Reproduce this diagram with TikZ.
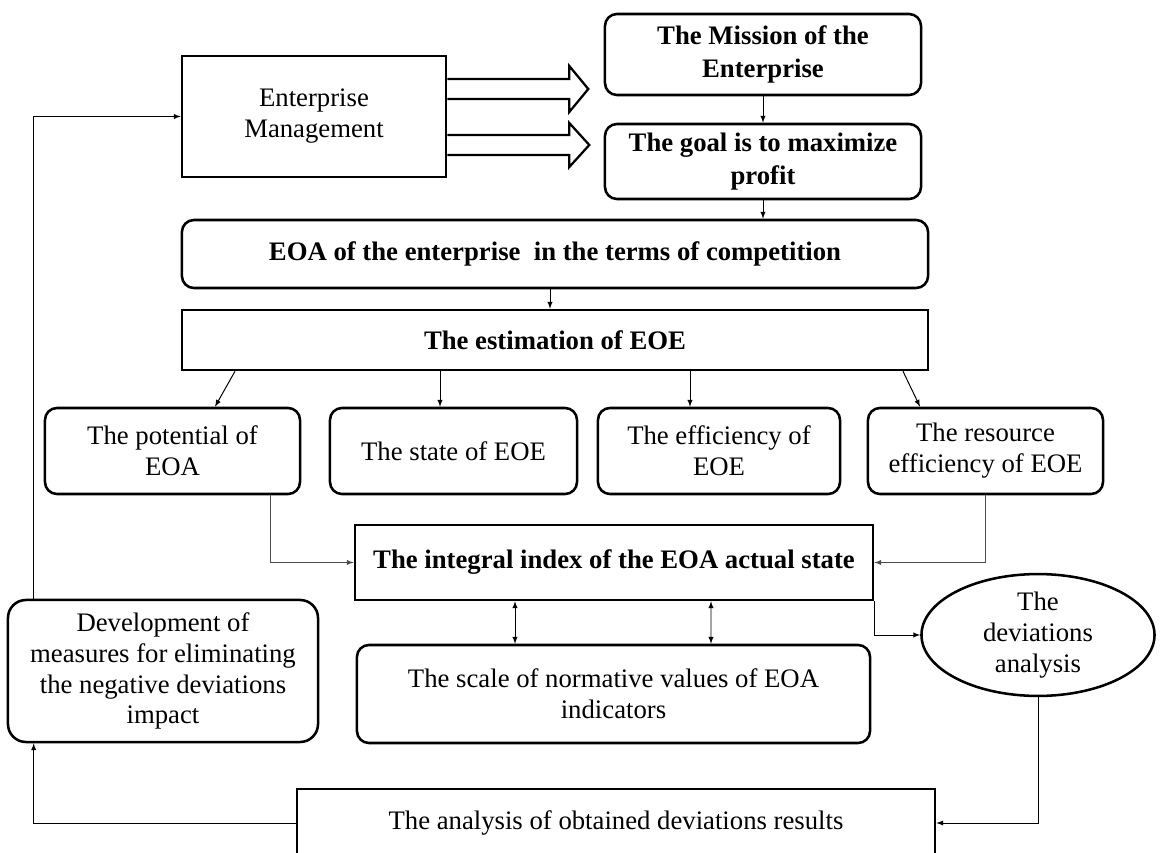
\documentclass[tikz,border=0pt]{standalone}
\usepackage{fontspec}
\setmainfont{Liberation Serif}
\usetikzlibrary{shapes.geometric,calc}

\tikzset{
  box/.style  = {draw, line width=1.8pt, align=center, inner sep=2pt},
  rbox/.style = {box, rounded corners=0.3cm},
  bold/.style = {font=\fontsize{19}{23}\selectfont\bfseries},
  arr/.style  = {->, >=latex, line width=0.7pt},
  fat/.style  = {draw, line width=1.6pt, line join=miter},
}

\begin{document}
\begin{tikzpicture}[x=0.025cm, y=-0.025cm, font=\fontsize{19}{22}\selectfont]
  \useasboundingbox (0,0) rectangle (1160,853);

  % top part
  \node[box, minimum width=6.6cm, minimum height=3.025cm] (mgmt) at (314,116.5) {Enterprise\\Management};
  \node[rbox, bold, minimum width=7.9cm, minimum height=2.025cm] (mission) at (763,54.5) {The Mission of the\\Enterprise};
  \node[rbox, bold, minimum width=7.9cm, minimum height=1.875cm] (goal) at (763,161.5) {The goal is to maximize\\profit};
  \node[rbox, bold, minimum width=18.65cm, minimum height=1.7cm] (eoa) at (555,254) {EOA of the enterprise \ in the terms of competition};
  \node[box, bold, minimum width=18.65cm, minimum height=1.5cm] (estim) at (555,340) {The estimation of EOE};

  % four estimates
  \node[rbox, minimum width=6.375cm, minimum height=2.15cm] (potential) at (172.5,451) {The potential of\\EOA};
  \node[rbox, minimum width=6.175cm, minimum height=2.15cm] (state) at (453.5,451) {The state of EOE};
  \node[rbox, minimum width=6.05cm, minimum height=2.15cm] (effic) at (719,451) {The efficiency of\\EOE};
  \node[rbox, minimum width=5.875cm, minimum height=2.15cm] (resource) at (985.5,451) {The resource\\efficiency of EOE};

  % lower part
  \node[box, bold, minimum width=12.95cm, minimum height=1.875cm] (integral) at (614,562.5) {The integral index of the EOA actual state};
  \node[rbox, minimum width=12.825cm, minimum height=2.45cm] (scale) at (613.5,694) {The scale of normative values of EOA\\indicators};
  \node[rbox, rounded corners=0.45cm, minimum width=7.75cm, minimum height=3.55cm] (devel) at (163,671) {Development of\\measures for eliminating\\the negative deviations\\impact};
  \node[box, ellipse, minimum width=5.825cm, minimum height=2.9cm, inner sep=0pt] (devia) at (1038,635) {The\\deviations\\analysis};
  \node[box, minimum width=15.95cm, minimum height=1.7cm] (results) at (616,823) {The analysis of obtained deviations results};

  % hollow arrows
  \draw[fat] ($(mgmt.east)+(0,-37.5)$) -- ++(122,0) -- ++(0,-13) -- ++(19,23) -- ++(-19,23) -- ++(0,-13) -- ++(-122,0);
  \draw[fat] ($(mgmt.east)+(0,18.5)$) -- ++(122,0) -- ++(0,-12) -- ++(20,22) -- ++(-20,22) -- ++(0,-12) -- ++(-122,0);

  % connectors
  \draw[arr] (mission) -- (goal);
  \draw[arr] (goal.south) -- ($(eoa.north)+(208,0)$);
  \draw[arr] ($(eoa.south)+(-5,0)$) -- ($(estim.north)+(-5,0)$);
  \draw[arr] ($(estim.south)+(-320,0)$) -- ($(potential.north)+(42.5,0)$);
  \draw[arr] ($(estim.south)+(-115,0)$) -- ($(state.north)+(-13.5,0)$);
  \draw[arr] ($(estim.south)+(135,0)$) -- ($(effic.north)+(-29,0)$);
  \draw[arr] ($(estim.south)+(348,0)$) -- ($(resource.north)+(-65.5,0)$);
  \draw[arr, gray!60!black] ($(potential.south)+(97.5,0)$) |- (integral.west);
  \draw[arr, gray!60!black] (resource.south) |- (integral.east);
  \draw[arr, <->] ($(integral.south)+(-99,0)$) -- ($(scale.north)+(-98.5,0)$);
  \draw[arr, <->] ($(integral.south)+(97,0)$) -- ($(scale.north)+(97.5,0)$);
  \draw[arr] (integral.south east) |- (devia.west);
  \draw[arr] (devia.south) |- (results.east);
  \draw[arr] (results.west) -| ($(devel.south west)+(27,0)$);
  \draw[arr] ($(devel.north west)+(27,0)$) |- (mgmt.west);
\end{tikzpicture}
\end{document}
